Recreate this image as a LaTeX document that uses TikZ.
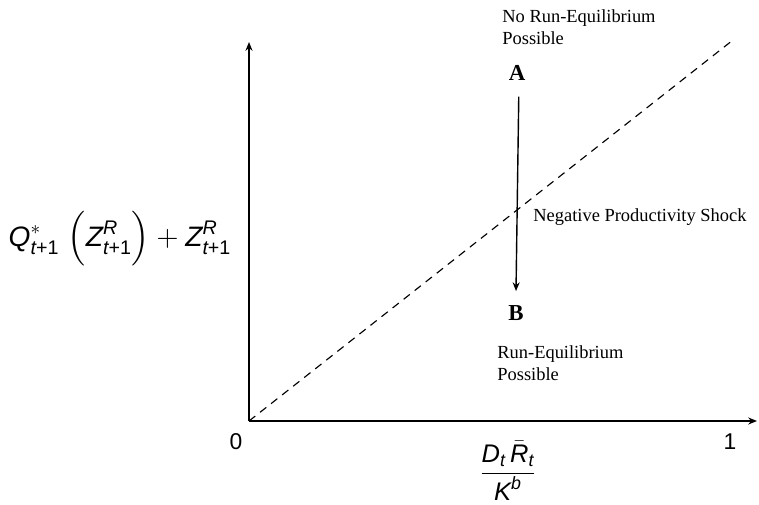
\documentclass[tikz,border=0pt]{standalone}
\usepackage{amsmath}
\usepackage{fontspec}
\setmainfont{Liberation Serif}
\newfontfamily\msf{Liberation Sans}
\newcommand{\sv}[1]{\text{\msf\itshape #1}}
\newcommand{\sn}[1]{\text{\msf #1}}
\usetikzlibrary{arrows.meta}

\begin{document}
\begin{tikzpicture}[x=0.02cm, y=0.02cm,
   axis/.style={line width=1.1pt, -{Stealth[length=5pt, width=4pt]}},
   shock/.style={line width=0.8pt, -{Stealth[length=5pt, width=4pt]}},
   curve/.style={dash pattern=on 4.5pt off 3.5pt, line width=0.65pt},
   lbl/.style={align=left, font=\fontsize{10.5}{12.5}\selectfont, inner sep=0pt},
   pt/.style={font=\fontsize{13}{15}\selectfont\bfseries, inner sep=0pt},
   mlbl/.style={font=\fontsize{13}{15}\selectfont, inner sep=0pt}]

  \useasboundingbox (0,0) rectangle (759,504);

  % ===== axes =====
  \coordinate (O) at (249,83);
  \coordinate (ytop) at (249,462);
  \coordinate (xend) at (757,83);
  \coordinate (lineend) at (733,464);
  \draw[axis] (O) -- (ytop);
  \draw[axis] (O) -- (xend);
  \draw[curve] (O) -- (lineend);

  \node[mlbl] (zero) at (236,62) {\msf 0};
  \node[mlbl] (one) at (730,62) {\msf 1};
  \node[mlbl, font=\fontsize{14.5}{17}\selectfont] (xlab) at (508,33)
        {$\dfrac{\sv{D}_{\sv{t}}\,\bar{\sv{R}}_{\sv{t}}}{\sv{K}^{\sv{b}}}$};
  \node[mlbl, font=\fontsize{16}{20}\selectfont] (ylab) at (120,265)
        {$\sv{Q}^{*}_{\sv{t}\sn{+1}}\;\Bigl(\sv{Z}^{\sv{R}}_{\sv{t}\sn{+1}}\Bigr)
          + \sv{Z}^{\sv{R}}_{\sv{t}\sn{+1}}$};

  % ===== shock =====
  \node[pt] (A) at (517,431) {A};
  \node[pt] (B) at (516,191) {B};
  \draw[shock] ([xshift=1pt, yshift=-9pt]A.south) -- ([yshift=8pt]B.north);

  \node[lbl, anchor=west] (shk) at (533,287) {Negative Productivity Shock};
  \node[lbl, anchor=north west] (norun) at (502,495)
        {No Run-Equilibrium\\Possible};
  \node[lbl, anchor=north west] (run) at (497,159)
        {Run-Equilibrium\\Possible};

\end{tikzpicture}
\end{document}
